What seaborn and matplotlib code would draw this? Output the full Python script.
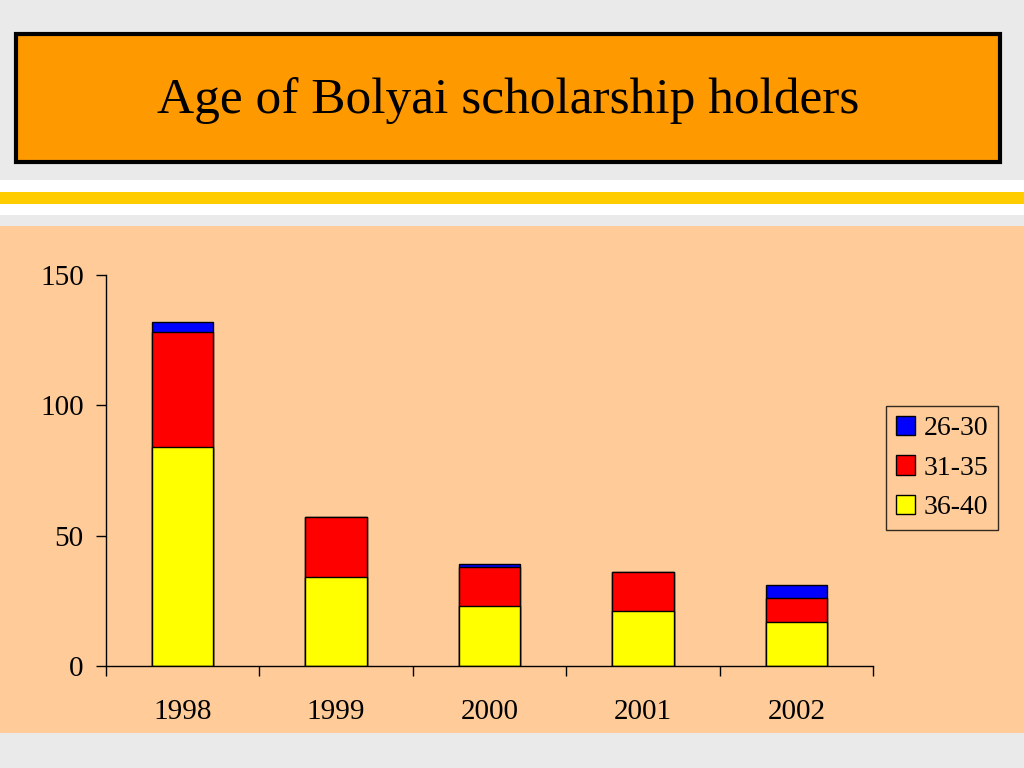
import numpy as np
import matplotlib
matplotlib.use("Agg")
import matplotlib.pyplot as plt
from matplotlib.patches import Rectangle, Patch
import seaborn as sns

# Data
years = ["1998", "1999", "2000", "2001", "2002"]
age_36_40 = [84, 34, 23, 21, 17]
age_31_35 = [44, 23, 15, 15, 9]
age_26_30 = [4, 0, 1, 0, 5]

sns.set_theme(style="white")
plt.rcParams['font.family'] = ['Liberation Serif', 'DejaVu Serif']
plt.rcParams['text.color'] = 'black'
plt.rcParams['xtick.color'] = 'black'
plt.rcParams['ytick.color'] = 'black'

fig = plt.figure(figsize=(10.24, 7.68), dpi=100)
fig.patch.set_facecolor('#eaeaea')

W, H = 1024, 768
def frect(x0, y0, x1, y1, **kw):
    # rectangle in pixel coords (top-left origin)
    fig.patches.append(Rectangle((x0 / W, 1 - y1 / H), (x1 - x0) / W, (y1 - y0) / H,
                                 transform=fig.transFigure, zorder=-1, **kw))

# Background bands
frect(0, 180, 1024, 192, facecolor='white', edgecolor='none')
frect(0, 192, 1024, 204, facecolor='#ffcc00', edgecolor='none')
frect(0, 204, 1024, 215, facecolor='white', edgecolor='none')
frect(0, 226, 1024, 733, facecolor='#ffcc99', edgecolor='none')
# Title box
frect(16, 34, 1000, 162, facecolor='#ff9900', edgecolor='black', linewidth=3)
fig.text(508 / W, 1 - 101 / H, "Age of Bolyai scholarship holders",
         ha='center', va='center', fontsize=37, color='black')

ax = fig.add_axes([106 / W, 1 - 666 / H, (873 - 106) / W, (666 - 275) / H])
ax.set_zorder(2)
ax.set_facecolor('none')

mid = np.array(age_36_40) + np.array(age_31_35)
total = mid + np.array(age_26_30)

common = dict(width=0.4, saturation=1, edgecolor='black', linewidth=1, order=years)
sns.barplot(x=years, y=total, color='#0000ff', ax=ax, **common)
sns.barplot(x=years, y=mid, color='#ff0000', ax=ax, **common)
sns.barplot(x=years, y=age_36_40, color='#ffff00', ax=ax, **common)

ax.set_xlim(-0.5, 4.5)
ax.set_ylim(0, 150)
ax.set_yticks([0, 50, 100, 150])
ax.set_xticks(np.arange(-0.5, 5, 1))
ax.set_xticklabels([])
ax.set_xticks(range(len(years)), minor=True)
ax.set_xticklabels(years, minor=True)
ax.tick_params(axis='x', which='major', direction='out', length=7, width=1,
               color='black', bottom=True)
ax.tick_params(axis='x', which='minor', length=0, pad=24, labelsize=21,
               labelcolor='black')
ax.tick_params(axis='y', direction='out', length=7, width=1, color='black',
               left=True, pad=9, labelsize=21, labelcolor='black')
ax.set_xlabel("")
ax.set_ylabel("")
for s in ['top', 'right']:
    ax.spines[s].set_visible(False)
for s in ['left', 'bottom']:
    ax.spines[s].set_color('black')
    ax.spines[s].set_linewidth(1)

handles = [Patch(facecolor='#0000ff', edgecolor='black', label='26-30'),
           Patch(facecolor='#ff0000', edgecolor='black', label='31-35'),
           Patch(facecolor='#ffff00', edgecolor='black', label='36-40')]
leg = ax.legend(handles=handles, loc='center left',
                bbox_to_anchor=(886 / W, 1 - 468 / H), bbox_transform=fig.transFigure,
                fontsize=20, frameon=True, fancybox=False, handlelength=0.7,
                handleheight=0.7, handletextpad=0.3, labelspacing=0.5,
                borderpad=0.35, borderaxespad=0)
leg.get_frame().set_edgecolor('black')
leg.get_frame().set_facecolor('#ffcc99')
leg.get_frame().set_linewidth(1)

fig.savefig("out.png", dpi=100)
